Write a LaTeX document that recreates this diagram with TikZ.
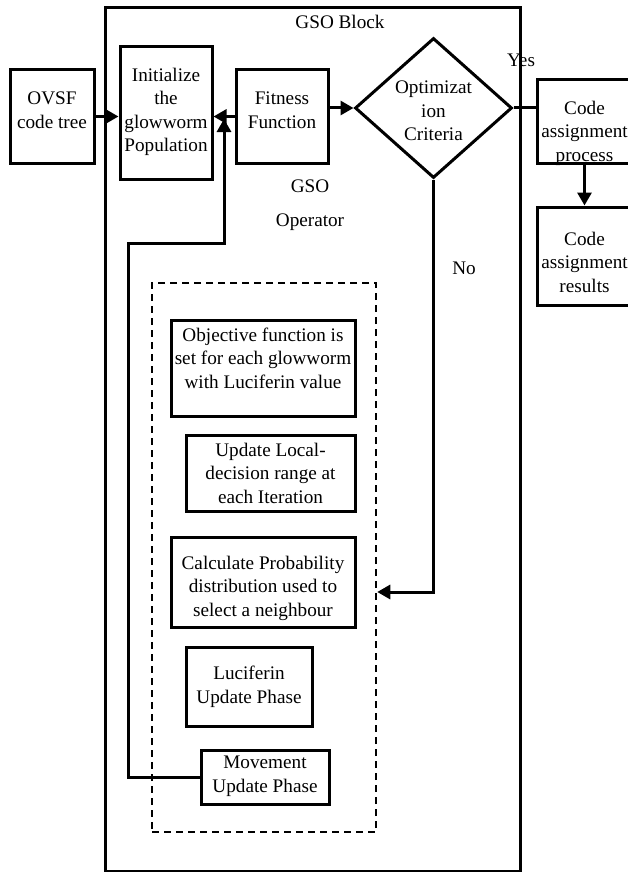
\documentclass[tikz,border=0pt]{standalone}
\usepackage{fontspec}
\setmainfont{Liberation Serif}
\usetikzlibrary{arrows.meta,shapes.geometric}
\begin{document}
\begin{tikzpicture}[x=1pt,y=-1pt,
 box/.style={draw,line width=3pt,inner sep=0pt},
 txt/.style={align=center,font=\fontsize{19.2}{23.5}\selectfont,inner sep=0pt},
 arr/.style={line width=3pt,-{Triangle[length=13pt,width=14pt]}},
 ln/.style={line width=3pt}]
\useasboundingbox (0,0) rectangle (628,872);
\node[draw,line width=3pt,inner sep=0pt,minimum width=415pt,minimum height=863pt] (blk) at (312.5,439.5) {};
\node[txt] (blkl) at (340,22) {GSO Block};
% top row
\node[box,minimum width=84pt,minimum height=93pt] (ovsf) at (52,116.5) {};
\node[txt] (ovsft) at (52,110) {OVSF\\code tree};
\node[box,minimum width=92pt,minimum height=132pt] (init) at (166,113) {};
\node[txt] (initt) at (166,112) {Initialize\\the\\glowworm\\Population};
\node[box,minimum width=92pt,minimum height=93pt] (fit) at (282,116.5) {};
\node[txt] (fitt) at (282,110) {Fitness\\Function};
\node[draw,diamond,line width=3pt,inner sep=0pt,minimum width=157pt,minimum height=140pt] (opt) at (433.5,108) {};
\node[txt] (optt) at (433.5,111) {Optimizat\\ion\\Criteria};
\node[txt] (yes) at (521,60) {Yes};
\node[box,minimum width=95pt,minimum height=83pt] (cap) at (584.5,121.5) {};
\node[txt] (capt) at (584.5,133) {Code\\assignment\\process};
\node[box,minimum width=95pt,minimum height=98pt] (car) at (584.5,256) {};
\node[txt] (cart) at (584.5,262) {Code\\assignment\\results};
\node[txt] (op) at (310,205) {GSO\\[10pt]Operator};
\node[txt] (no) at (464,268) {No};
% dashed operator block
\node[draw,dashed,dash pattern=on 7pt off 5pt,line width=2.5pt,inner sep=0pt,minimum width=224pt,minimum height=549pt] (dash) at (264,557.5) {};
\node[box,minimum width=184pt,minimum height=96pt] (obj) at (263,368) {};
\node[txt] (objt) at (263,358) {Objective function is\\set for each glowworm\\with Luciferin value};
\node[box,minimum width=169pt,minimum height=76pt] (upd) at (270.5,473) {};
\node[txt] (updt) at (270.5,473) {Update Local-\\decision range at\\each Iteration};
\node[box,minimum width=184pt,minimum height=90pt] (cal) at (263,582) {};
\node[txt] (calt) at (263,588) {Calculate Probability\\distribution used to\\select a neighbour};
\node[box,minimum width=126pt,minimum height=79pt] (luc) at (249,686.5) {};
\node[txt] (luct) at (249,687) {Luciferin\\Update Phase};
\node[box,minimum width=128pt,minimum height=54pt] (mov) at (265,777) {};
\node[txt] (movt) at (265,776) {Movement\\Update Phase};
% connectors
\draw[arr] (ovsf.east) -- (ovsf.east -| init.west);
\draw[arr] (fit.west) -- (fit.west -| init.east);
\coordinate (c1) at (128,243);
\coordinate (c2) at (224,243);
\coordinate (c3) at (224,119);
\draw[arr] (mov.west) -- (mov.west -| c1) -- (c1) -- (c2) -- (c3);
\draw[arr] (fit.east |- opt.west) -- (opt.west);
\draw[ln] (opt.east) -- (opt.east -| cap.west);
\draw[arr] (cap.south) -- (car.north);
\coordinate (c4) at (433.5,592);
\draw[arr] (opt.south) -- (c4) -- (c4 -| dash.east);
\end{tikzpicture}
\end{document}
